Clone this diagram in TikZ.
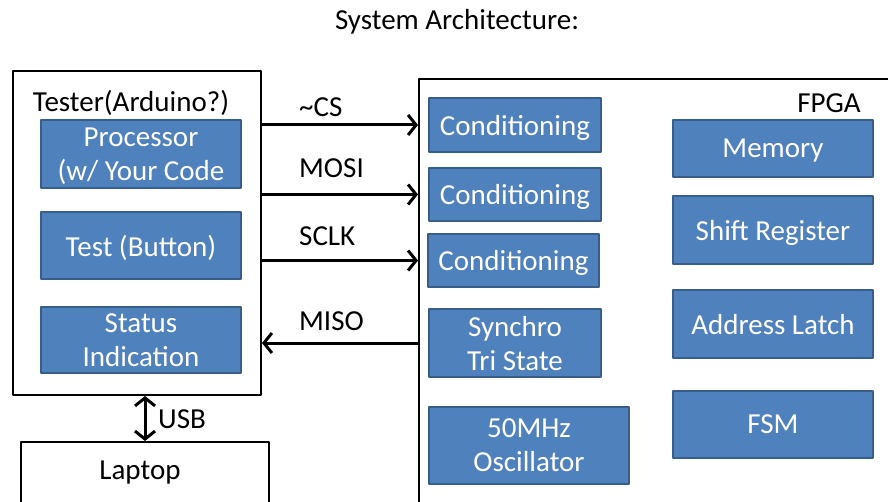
\documentclass[tikz,border=0pt]{standalone}
\usepackage{fontspec}
\setmainfont{Carlito}
\usetikzlibrary{arrows.meta}
\definecolor{blockfill}{RGB}{79,129,189}
\definecolor{blockline}{RGB}{56,93,138}
\begin{document}
\begin{tikzpicture}[x=1pt,y=-1pt,line join=round,font=\fontsize{29}{34}\selectfont,
	block/.style={draw=blockline,fill=blockfill,line width=1.5pt,text=white,align=center,inner sep=0pt,text depth=0pt},
	frame/.style={draw=black,line width=2pt,inner sep=0pt},
	sig/.style={line width=3pt,>={Straight Barb[length=8pt,width=20pt]}}]
	\useasboundingbox (0,0) rectangle (888,502);
	\node (title) at (457,22) {System Architecture:};
	% tester side
	\node[frame,minimum width=248pt,minimum height=324pt] (tester) at (137,233) {};
	\node (testername) at (131,103) {Tester(Arduino?)};
	\node[block,minimum width=200pt,minimum height=68pt] (proc) at (141,154) {Processor\\(w/ Your Code};
	\node[block,minimum width=200pt,minimum height=67pt] (test) at (141,245.5) {Test (Button)};
	\node[block,minimum width=200pt,minimum height=66pt] (status) at (141,340) {Status\\Indication};
	\node[frame,minimum width=248pt,minimum height=80pt] (laptop) at (145,482) {};
	\node (laptopname) at (140,473) {Laptop};
	% fpga side
	\node[frame,minimum width=490pt,minimum height=450pt,anchor=north west] (fpga) at (418,78) {};
	\node (fpganame) at (829,103) {FPGA};
	\node[block,minimum width=172pt,minimum height=54pt] (cond1) at (515,125) {Conditioning};
	\node[block,minimum width=172pt,minimum height=53pt] (cond2) at (515,194.5) {Conditioning};
	\node[block,minimum width=171pt,minimum height=53pt] (cond3) at (513.5,260.5) {Conditioning};
	\node[block,minimum width=172pt,minimum height=68pt] (sync) at (515,343) {Synchro\\Tri State};
	\node[block,minimum width=200pt,minimum height=77pt] (osc) at (529,445.5) {50MHz\\Oscillator};
	\node[block,minimum width=200pt,minimum height=57pt] (mem) at (773,148.5) {Memory};
	\node[block,minimum width=200pt,minimum height=68pt] (shift) at (773,230) {Shift Register};
	\node[block,minimum width=200pt,minimum height=68pt] (latch) at (773,324) {Address Latch};
	\node[block,minimum width=200pt,minimum height=67pt] (fsm) at (773,424.5) {FSM};
	% spi lines
	\foreach \nm in {cond1,cond2,cond3}
	\draw[sig,->] (tester.east |- \nm) -- (fpga.west |- \nm);
	\draw[sig,<-] (tester.east |- sync) -- (fpga.west |- sync);
	\foreach \y/\txt/\nm in {107/\textasciitilde CS/cslabel,168/MOSI/mosilabel,236/SCLK/sclklabel,321/MISO/misolabel}
	\node[anchor=west,inner sep=0pt] (\nm) at (299,\y) {\txt};
	\draw[sig,<->] (tester.south -| laptop.north) -- (laptop.north);
	\node[anchor=west,inner sep=0pt] (usblabel) at (158,419) {USB};
\end{tikzpicture}
\end{document}
